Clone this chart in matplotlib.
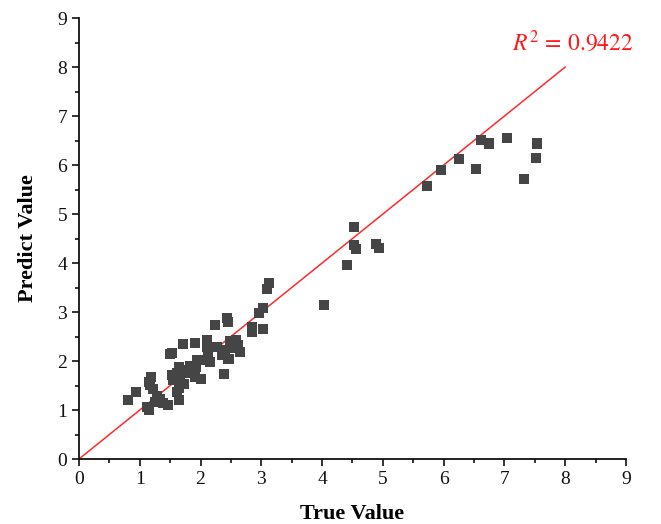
import matplotlib
matplotlib.use("Agg")
import matplotlib.pyplot as plt
from matplotlib.ticker import MultipleLocator

true_vals = [0.81, 0.94, 1.12, 1.16, 1.19, 1.16, 1.17, 1.22, 1.29, 1.34, 1.25, 1.47,
             1.50, 1.55, 1.53, 1.64, 1.61, 1.66, 1.72, 1.64, 1.61, 1.65, 1.71, 1.80,
             1.77, 1.94, 1.93, 1.91, 2.00, 1.91, 2.10, 2.11, 2.15, 2.13, 2.23, 2.27,
             2.35, 2.39, 2.46, 2.44, 2.45, 2.49, 2.59, 2.57, 2.65, 2.62, 2.84, 2.84,
             3.02, 2.97, 3.02, 3.10, 3.12, 2.22, 2.40, 2.02, 1.83, 1.38, 1.53,
             4.03, 4.41, 4.52, 4.52, 4.56, 4.89, 4.93, 5.72, 5.96, 6.25, 6.53,
             6.61, 6.74, 7.04, 7.33, 7.52, 7.54]
pred_vals = [1.20, 1.37, 1.07, 1.00, 1.68, 1.58, 1.51, 1.42, 1.29, 1.22, 1.17, 1.10,
             2.14, 1.61, 1.71, 1.88, 1.75, 1.65, 1.54, 1.44, 1.37, 1.20, 2.35, 1.82,
             1.75, 2.02, 1.88, 1.68, 1.63, 2.36, 2.42, 2.28, 1.98, 2.10, 2.73, 2.28,
             2.12, 1.73, 2.05, 2.87, 2.80, 2.40, 2.43, 2.26, 2.19, 2.33, 2.70, 2.60,
             2.65, 2.99, 3.09, 3.48, 3.59, 2.29, 2.22, 2.03, 1.89, 1.14, 2.16,
             3.14, 3.97, 4.74, 4.37, 4.28, 4.39, 4.31, 5.58, 5.90, 6.13, 5.92,
             6.51, 6.44, 6.56, 5.71, 6.15, 6.44]
fit_x = [0, 8]
fit_y = [0, 8]
r2_text = r"$R^2\,=\,0.9422$"

plt.rcParams['font.family'] = ['Liberation Serif', 'DejaVu Serif']
plt.rcParams['mathtext.fontset'] = 'stix'

fig = plt.figure(figsize=(6.61, 5.24), dpi=100)
ax = fig.add_axes([0.1195, 0.124, 0.8275, 0.8415])

ax.plot(fit_x, fit_y, color='#ff2a2a', lw=1.1, zorder=2)
ax.scatter(true_vals, pred_vals, marker='s', s=52, color='#454545', edgecolors='none', zorder=3)

ax.text(8.12, 8.5, r2_text, color='#ff1a1a', fontsize=17, ha='center', va='center')

ax.set_xlim(0, 9)
ax.set_ylim(0, 9)
ax.xaxis.set_major_locator(MultipleLocator(1))
ax.yaxis.set_major_locator(MultipleLocator(1))
ax.xaxis.set_minor_locator(MultipleLocator(0.5))
ax.yaxis.set_minor_locator(MultipleLocator(0.5))
ax.tick_params(which='major', direction='out', length=5, width=1.2, labelsize=14, colors='#111111')
ax.tick_params(which='minor', direction='out', length=3, width=1.2, colors='#111111')
for s in ['top', 'right']:
    ax.spines[s].set_visible(False)
for s in ['left', 'bottom']:
    ax.spines[s].set_linewidth(1.3)
    ax.spines[s].set_color('#111111')

ax.set_xlabel('True Value', fontsize=16, fontweight='bold', labelpad=12)
ax.set_ylabel('Predict Value', fontsize=16, fontweight='bold', labelpad=14)

fig.savefig('out.png', dpi=100)
